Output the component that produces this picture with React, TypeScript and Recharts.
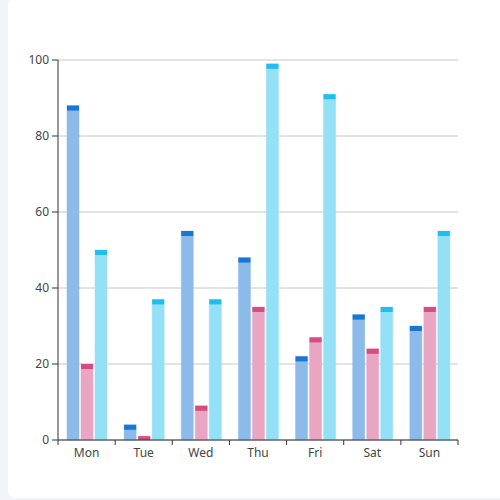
import React from "react";
import { BarChart, Bar, XAxis, YAxis, CartesianGrid } from "recharts";

const days = ["Mon", "Tue", "Wed", "Thu", "Fri", "Sat", "Sun"];
const seriesA = [88, 4, 55, 48, 22, 33, 30];
const seriesB = [20, 1, 9, 35, 27, 24, 35];
const seriesC = [50, 37, 37, 99, 91, 35, 55];
const yTicks = [0, 20, 40, 60, 80, 100];

const data = days.map((d, i) => ({ day: d, a: seriesA[i], b: seriesB[i], c: seriesC[i] }));

const W = 500;
const H = 500;
const MARGIN = { top: 60, right: 42, left: 0, bottom: 30 };
const Y_W = 58;
const BAND = (W - Y_W - MARGIN.right) / days.length;
const LABEL = "#444";

const makeShape = (light: string, dark: string) => (props: any) => {
  const { x, y, width, height } = props;
  if (height == null || height <= 0) return <g />;
  const cap = Math.min(5, height);
  return (
    <g>
      <rect x={x} y={y} width={width} height={height} fill={light} stroke={light} strokeOpacity={0.5} strokeWidth={1} />
      <rect x={x} y={y} width={width} height={cap} fill={dark} />
    </g>
  );
};

const XTick = (props: any) => {
  const { x, y, payload, index } = props;
  const left = x - BAND / 2;
  const right = x + BAND / 2;
  return (
    <g>
      <line x1={left} y1={y - 8} x2={left} y2={y - 3} stroke="#333" strokeWidth={1} />
      {index === days.length - 1 && (
        <line x1={right} y1={y - 8} x2={right} y2={y - 3} stroke="#333" strokeWidth={1} />
      )}
      <text x={x} y={y + 9} textAnchor="middle" fill={LABEL} fontSize={12} fontFamily="'Noto Sans', sans-serif">
        {payload.value}
      </text>
    </g>
  );
};

export default function App() {
  return (
    <div style={{ position: "fixed", left: 0, top: 0, width: 520, height: 520, background: "#f3f4f9", overflow: "hidden" }}>
      <div style={{ position: "absolute", left: 8, top: -3, width: 600, height: 501, background: "#fff", borderRadius: 8 }} />
      <div style={{ position: "absolute", left: 0, top: 0 }}>
        <BarChart width={W} height={H} data={data} margin={MARGIN} barSize={12} barGap={2}>
          <CartesianGrid vertical={false} stroke="#c8c8c8" strokeWidth={1} />
          <XAxis
            dataKey="day"
            stroke="#333"
            tickLine={false}
            tick={<XTick />}
            height={30}
            interval={0}
          />
          <YAxis
            domain={[0, 100]}
            ticks={yTicks}
            width={Y_W}
            stroke="#333"
            tickSize={6}
            tick={{ fill: LABEL, fontSize: 12, fontFamily: "'Noto Sans', sans-serif" }}
            tickMargin={3}
          />
          <Bar dataKey="a" isAnimationActive={false} shape={makeShape("#8cbbe9", "#1976d2")} />
          <Bar dataKey="b" isAnimationActive={false} shape={makeShape("#e8a6c3", "#d64b80")} />
          <Bar dataKey="c" isAnimationActive={false} shape={makeShape("#94e0f6", "#21bdf0")} />
        </BarChart>
      </div>
    </div>
  );
}
